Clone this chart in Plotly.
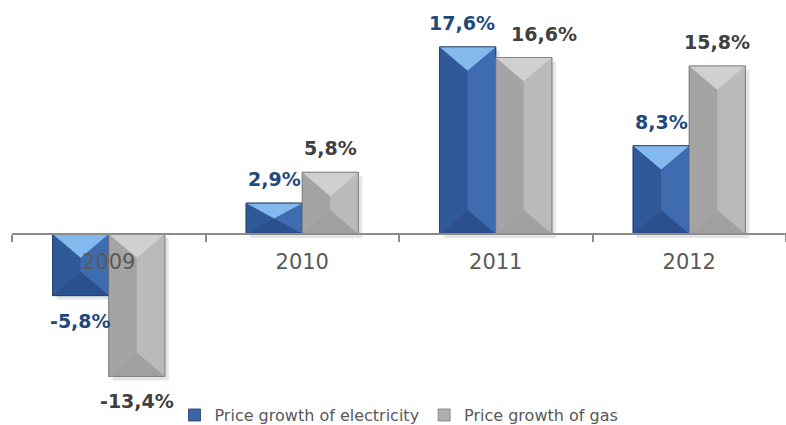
import plotly.graph_objects as go

# Year-over-year price growth, %
years = ["2009", "2010", "2011", "2012"]
electricity = [-5.8, 2.9, 17.6, 8.3]
gas = [-13.4, 5.8, 16.6, 15.8]
series_names = ["Price growth of electricity", "Price growth of gas"]

# Layout constants
W, H = 786, 425
M_L, M_R, M_T, M_B = 12, 0, 10, 35
Y_RANGE = [-14.68, 21.07]
BARGAP = 0.42
BAR_W = (1 - BARGAP) / 2

plot_w = W - M_L - M_R
plot_h = H - M_T - M_B
px_per_y = plot_h / (Y_RANGE[1] - Y_RANGE[0])
px_per_x = plot_w / len(years)
xpos = list(range(len(years)))

styles = {
    "elec": dict(base="#3a65a8", line="#1f3864", top="#84b9ee", left="#30599a",
                 right="#3f6cb1", bottom="#2b508d", text="#1f497d"),
    "gas": dict(base="#b0b0b0", line="#7a7a7a", top="#d0d0d0", left="#a4a4a4",
                right="#bababa", bottom="#a0a0a0", text="#404040"),
}
# small horizontal nudges (px) for crowded value labels: (category, series)
label_nudge = {(2, 0): -6, (2, 1): 20}

fig = go.Figure()
fig.add_trace(go.Bar(x=xpos, y=electricity, name=series_names[0],
                     marker=dict(color=styles["elec"]["base"],
                                 line=dict(color=styles["elec"]["line"], width=0.8))))
fig.add_trace(go.Bar(x=xpos, y=gas, name=series_names[1],
                     marker=dict(color=styles["gas"]["base"],
                                 line=dict(color=styles["gas"]["line"], width=0.8))))

shapes = []
annotations = []
faces = {}  # (series, face) -> list of polygons


def bevel(i, k, v, key):
    """Pyramid-style bevel faces for the k-th bar of category i."""
    st = styles[key]
    x0 = i - BAR_W + k * BAR_W
    x1 = x0 + BAR_W
    xc = (x0 + x1) / 2
    hi, lo = max(0, v), min(0, v)
    half_w_units = 0.85 * (BAR_W / 2) * px_per_x / px_per_y
    depth = min(half_w_units, (hi - lo) / 2)
    p1, p2 = hi - depth, lo + depth
    # soft drop shadow
    dx, dy = 4 / px_per_x, 4 / px_per_y
    path = (f"M {x0 + dx},{hi - dy} L {x1 + dx},{hi - dy} "
            f"L {x1 + dx},{lo - dy} L {x0 + dx},{lo - dy} Z")
    shapes.append(dict(type="path", path=path, xref="x", yref="y",
                       fillcolor="#000000", opacity=0.10, line=dict(width=0),
                       layer="below"))
    faces.setdefault((key, "left"), []).append([(x0, hi), (xc, p1), (xc, p2), (x0, lo)])
    faces.setdefault((key, "right"), []).append([(x1, hi), (xc, p1), (xc, p2), (x1, lo)])
    faces.setdefault((key, "bottom"), []).append([(x0, lo), (x1, lo), (xc, p2)])
    faces.setdefault((key, "top"), []).append([(x0, hi), (x1, hi), (xc, p1)])
    faces.setdefault((key, "line"), []).append([(x0, hi), (x1, hi), (x1, lo), (x0, lo)])
    # value label
    annotations.append(dict(
        x=xc, y=v, xref="x", yref="y", showarrow=False,
        text=f"{v:.1f}%".replace(".", ","),
        yanchor="bottom" if v >= 0 else "top",
        yshift=11 if v >= 0 else -12,
        xshift=label_nudge.get((i, k), 0),
        font=dict(family="DejaVu Sans", size=19, color=st["text"], weight="bold"),
    ))


for i in range(len(years)):
    bevel(i, 0, electricity[i], "elec")
    bevel(i, 1, gas[i], "gas")

for key in ("elec", "gas"):
    st = styles[key]
    for face in ("left", "right", "bottom", "top", "line"):
        xs, ys = [], []
        for pts in faces[(key, face)]:
            closed = pts + [pts[0]]
            xs += [p[0] for p in closed] + [None]
            ys += [p[1] for p in closed] + [None]
        if face == "line":
            fig.add_trace(go.Scatter(x=xs, y=ys, mode="lines", showlegend=False,
                                     hoverinfo="skip",
                                     line=dict(color=st["line"], width=0.8)))
        else:
            fig.add_trace(go.Scatter(x=xs, y=ys, mode="lines", fill="toself",
                                     fillcolor=st[face], showlegend=False,
                                     hoverinfo="skip", line=dict(width=0)))

zero_pos = (0 - Y_RANGE[0]) / (Y_RANGE[1] - Y_RANGE[0])

fig.update_layout(
    width=W, height=H,
    margin=dict(l=M_L, r=M_R, t=M_T, b=M_B, autoexpand=False),
    paper_bgcolor="white", plot_bgcolor="white",
    barmode="group", bargap=BARGAP, bargroupgap=0,
    showlegend=True,
    legend=dict(orientation="h", x=0.5, xanchor="center", y=-0.066, yanchor="middle",
                font=dict(family="DejaVu Sans", size=16, color="#595959"),
                itemclick=False),
    xaxis=dict(type="linear", anchor="free", position=zero_pos,
               range=[-0.5, len(years) - 0.5],
               tickmode="array", tickvals=xpos, ticktext=years, ticks="",
               minor=dict(tickmode="linear", tick0=-0.5, dtick=1, ticks="outside",
                          ticklen=7, tickcolor="#8c8c8c", tickwidth=1.5,
                          showgrid=False),
               showline=True, linecolor="#8c8c8c", linewidth=1.5,
               showgrid=False, zeroline=False,
               tickfont=dict(family="DejaVu Sans", size=21, color="#595959"),
               ticklabelstandoff=9),
    yaxis=dict(range=Y_RANGE, visible=False, showgrid=False, zeroline=False),
    shapes=shapes,
    annotations=annotations,
)

fig.write_html("out.html")
